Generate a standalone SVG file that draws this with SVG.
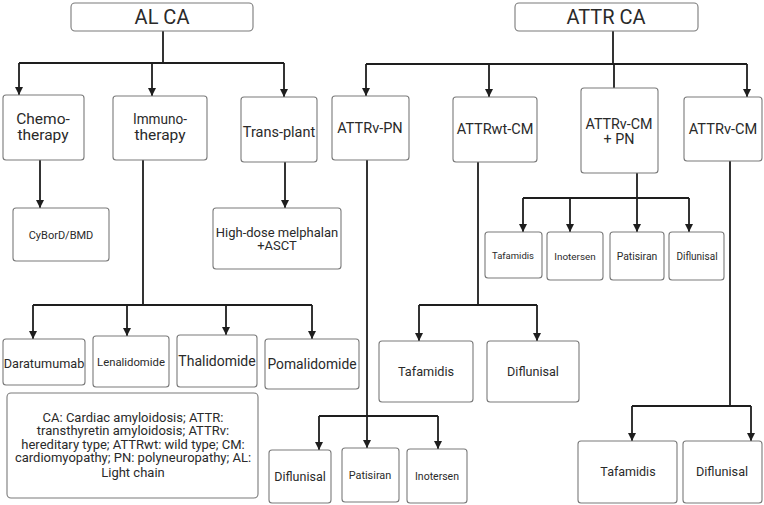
<svg xmlns="http://www.w3.org/2000/svg" width="764" height="505" viewBox="0 0 764 505">
<style>
.box{fill:#fff;stroke:#7a7a7a;stroke-width:1.1}
.t{font-family:Roboto,"Liberation Sans",sans-serif;fill:#2a2a2a;text-anchor:middle}
.c{fill:none;stroke:#1e1e1e;stroke-width:1.8}
.a{marker-end:url(#ah)}
</style>
<defs>
<marker id="ah" markerUnits="userSpaceOnUse" markerWidth="8" markerHeight="8" viewBox="0 0 8 8" refX="8" refY="4" orient="auto">
<path d="M0,0 L8,4 L0,8 z" fill="#1e1e1e"/>
</marker>
</defs>
<rect width="764" height="505" fill="#fff"/>
<g id="connectors">
<path class="c" d="M163,31 V63 M19,63 H284"/>
<path class="c a" d="M19,63 V95"/>
<path class="c a" d="M152,63 V96"/>
<path class="c a" d="M284,63 V97"/>
<path class="c a" d="M40,160 V208"/>
<path class="c a" d="M285,162 V208"/>
<path class="c" d="M143,160 V305 M33,305 H312"/>
<path class="c a" d="M33,305 V339"/>
<path class="c a" d="M127,305 V336"/>
<path class="c a" d="M226,305 V335"/>
<path class="c a" d="M312,305 V339"/>
<path class="c" d="M613,31 V64 M366,64 H747 M614,64 V88"/>
<path class="c a" d="M366,64 V96"/>
<path class="c a" d="M489,64 V97"/>
<path class="c a" d="M747,64 V97"/>
<path class="c a" d="M367,160 V448"/>
<path class="c" d="M319,416 H438"/>
<path class="c a" d="M319,416 V450"/>
<path class="c a" d="M438,416 V449"/>
<path class="c" d="M478,162 V305 M419,305 H537"/>
<path class="c a" d="M419,305 V341"/>
<path class="c a" d="M537,305 V341"/>
<path class="c" d="M637,173 V198 M523,198 H689"/>
<path class="c a" d="M523,198 V232"/>
<path class="c a" d="M570,198 V232"/>
<path class="c a" d="M637,198 V232"/>
<path class="c a" d="M689,198 V232"/>
<path class="c" d="M730,161 V406 M632,406 H751"/>
<path class="c a" d="M632,406 V441"/>
<path class="c a" d="M751,406 V441"/>
</g>
<g id="al-ca"><rect class="box" x="71" y="3" width="182" height="28" rx="4"/><text class="t" x="162" y="24" font-size="20">AL CA</text></g>
<g id="chemo"><rect class="box" x="3" y="95" width="81" height="65" rx="3"/><text class="t" x="43" y="124" font-size="15.5">Chemo-</text><text class="t" x="43" y="140" font-size="15.5">therapy</text></g>
<g id="immuno"><rect class="box" x="113" y="96" width="94" height="64" rx="3"/><text class="t" x="160" y="124" font-size="15.5" textLength="54" lengthAdjust="spacingAndGlyphs">Immuno-</text><text class="t" x="160" y="140" font-size="15.5">therapy</text></g>
<g id="transplant"><rect class="box" x="241" y="97" width="76" height="65" rx="3"/><text class="t" x="279" y="137" font-size="14.5">Trans-plant</text></g>
<g id="cybord"><rect class="box" x="13" y="208" width="96" height="53" rx="3"/><text class="t" x="61" y="239" font-size="11">CyBorD/BMD</text></g>
<g id="highdose"><rect class="box" x="213" y="208" width="128" height="61" rx="3"/><text class="t" x="277" y="237" font-size="13">High-dose melphalan</text><text class="t" x="277" y="250" font-size="13">+ASCT</text></g>
<g id="daratumumab"><rect class="box" x="3" y="339" width="82" height="46" rx="3"/><text class="t" x="44" y="368" font-size="12.7">Daratumumab</text></g>
<g id="lenalidomide"><rect class="box" x="93" y="336" width="76" height="51" rx="3"/><text class="t" x="131" y="366" font-size="11.3">Lenalidomide</text></g>
<g id="thalidomide"><rect class="box" x="177" y="335" width="80" height="52" rx="3"/><text class="t" x="217" y="366" font-size="14">Thalidomide</text></g>
<g id="pomalidomide"><rect class="box" x="265" y="339" width="94" height="50" rx="3"/><text class="t" x="312" y="369" font-size="13.8">Pomalidomide</text></g>
<g id="legend"><rect class="box" x="7" y="393" width="251" height="105" rx="4"/>
<text class="t" font-size="13"><tspan x="133" y="422">CA: Cardiac amyloidosis; ATTR:</tspan><tspan x="133" y="435">transthyretin amyloidosis; ATTRv:</tspan><tspan x="133" y="448.5">hereditary type; ATTRwt: wild type; CM:</tspan><tspan x="133" y="462">cardiomyopathy; PN: polyneuropathy; AL:</tspan><tspan x="133" y="477">Light chain</tspan></text></g>
<g id="attr-ca"><rect class="box" x="515" y="3" width="183" height="28" rx="4"/><text class="t" x="606" y="24" font-size="20">ATTR CA</text></g>
<g id="attrv-pn"><rect class="box" x="332" y="96" width="77" height="64" rx="3"/><text class="t" x="370" y="133" font-size="14.5">ATTRv-PN</text></g>
<g id="attrwt-cm"><rect class="box" x="453" y="97" width="84" height="65" rx="3"/><text class="t" x="495" y="134" font-size="14.5">ATTRwt-CM</text></g>
<g id="attrv-cm-pn"><rect class="box" x="581" y="88" width="77" height="85" rx="3"/><text class="t" x="619" y="129" font-size="14.3">ATTRv-CM</text><text class="t" x="619" y="144" font-size="14.3">+ PN</text></g>
<g id="attrv-cm"><rect class="box" x="684" y="97" width="78" height="64" rx="3"/><text class="t" x="723" y="134" font-size="14.6">ATTRv-CM</text></g>
<g id="tafamidis-1"><rect class="box" x="485" y="232" width="57" height="46" rx="3"/><text class="t" x="513" y="259" font-size="9.5">Tafamidis</text></g>
<g id="inotersen-1"><rect class="box" x="547" y="232" width="56" height="48" rx="3"/><text class="t" x="575" y="260" font-size="9.9">Inotersen</text></g>
<g id="patisiran-1"><rect class="box" x="610" y="232" width="54" height="48" rx="3"/><text class="t" x="637" y="260" font-size="10.4">Patisiran</text></g>
<g id="diflunisal-1"><rect class="box" x="669" y="232" width="55" height="48" rx="3"/><text class="t" x="697" y="260" font-size="10">Diflunisal</text></g>
<g id="tafamidis-2"><rect class="box" x="379" y="341" width="94" height="61" rx="3"/><text class="t" x="426" y="376" font-size="12.7">Tafamidis</text></g>
<g id="diflunisal-2"><rect class="box" x="487" y="341" width="92" height="61" rx="3"/><text class="t" x="533" y="376" font-size="12.6">Diflunisal</text></g>
<g id="diflunisal-3"><rect class="box" x="269" y="450" width="62" height="53" rx="3"/><text class="t" x="300" y="481" font-size="12.5">Diflunisal</text></g>
<g id="patisiran-2"><rect class="box" x="342" y="448" width="57" height="54" rx="3"/><text class="t" x="370" y="479" font-size="10.9">Patisiran</text></g>
<g id="inotersen-2"><rect class="box" x="407" y="449" width="60" height="54" rx="3"/><text class="t" x="437" y="480" font-size="10.5">Inotersen</text></g>
<g id="tafamidis-3"><rect class="box" x="578" y="441" width="99" height="62" rx="3"/><text class="t" x="628" y="476" font-size="12.5">Tafamidis</text></g>
<g id="diflunisal-4"><rect class="box" x="683" y="441" width="79" height="62" rx="3"/><text class="t" x="722" y="476" font-size="12.7">Diflunisal</text></g>
</svg>
